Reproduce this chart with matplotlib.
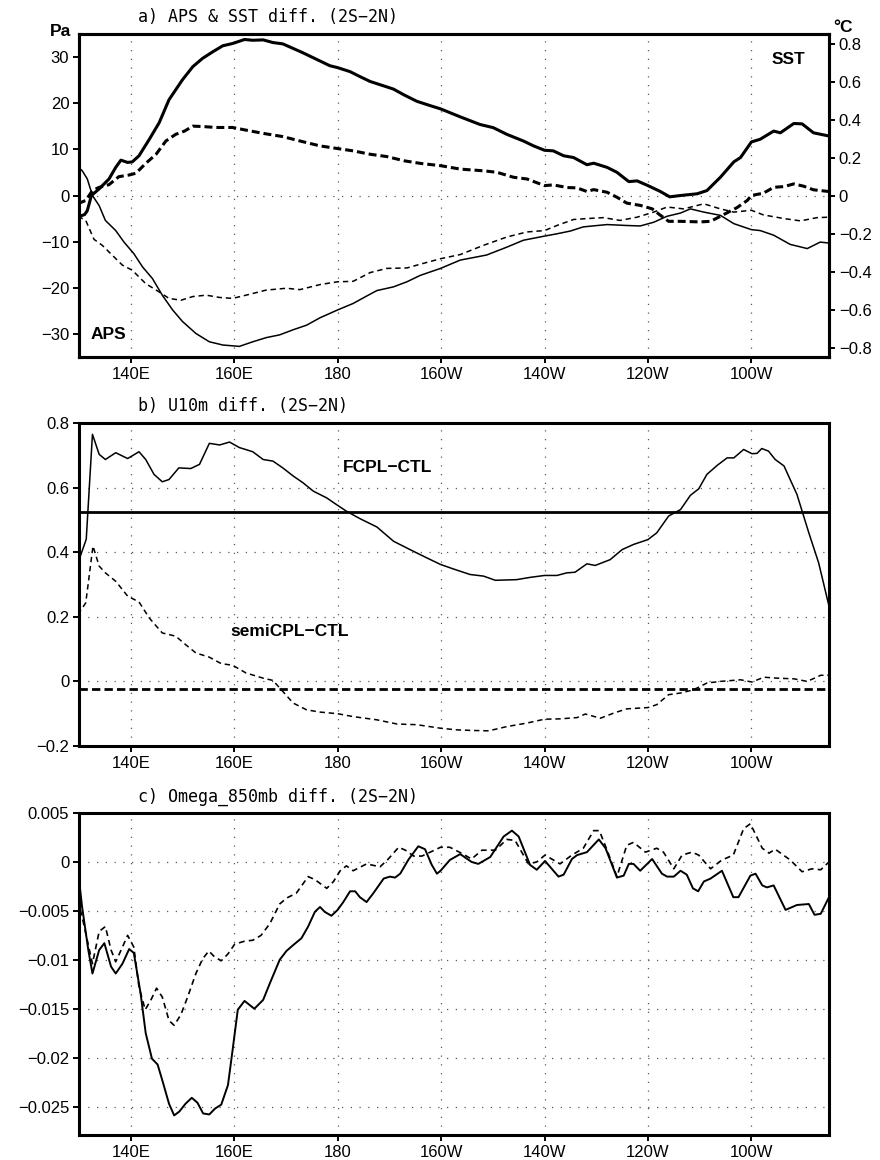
import matplotlib
matplotlib.use("Agg")
import matplotlib.pyplot as plt

# ---- panel a: APS (Pa, thin) and SST (degC, thick), 2S-2N ----
sst_fcpl_lon = [129.8, 131.1, 131.6, 132.4, 133.9, 135.8, 137.1, 138.1, 139.4, 140.3, 141.6, 143.6,
                145.5, 147.4, 150.0, 152.0, 153.9, 155.9, 157.8, 159.7, 162.0, 163.6, 165.6, 167.5,
                169.4, 171.4, 173.3, 175.9, 178.5, 180.0, 182.4, 184.3, 186.3, 188.9, 190.8, 192.8,
                195.3, 197.9, 199.9, 203.7, 207.5, 210.1, 212.7, 215.9, 217.9, 220.0, 221.7, 223.7,
                225.6, 228.2, 229.5, 232.1, 234.0, 236.3, 237.9, 240.0, 242.4, 244.2, 246.3, 249.5,
                251.4, 254.0, 256.6, 257.9, 260.0, 261.7, 264.3, 265.6, 268.2, 269.8, 272.0, 275.0]
sst_fcpl = [-0.113, -0.10, -0.08, 0.0, 0.035, 0.087, 0.148, 0.186, 0.174, 0.177, 0.209, 0.296,
            0.383, 0.504, 0.609, 0.678, 0.722, 0.757, 0.788, 0.80, 0.821, 0.817, 0.819, 0.805,
            0.798, 0.774, 0.751, 0.717, 0.683, 0.673, 0.652, 0.626, 0.60, 0.577, 0.56, 0.53,
            0.496, 0.473, 0.456, 0.414, 0.374, 0.357, 0.322, 0.287, 0.261, 0.238, 0.235, 0.209,
            0.20, 0.162, 0.17, 0.148, 0.122, 0.073, 0.077, 0.052, 0.021, -0.007, 0.0, 0.009,
            0.026, 0.096, 0.177, 0.20, 0.282, 0.296, 0.339, 0.33, 0.379, 0.377, 0.33, 0.313]

sst_semi_lon = [129.8, 131.3, 132.6, 133.9, 135.8, 137.7, 139.7, 141.0, 142.9, 144.9, 146.8, 148.7,
                150.4, 152.0, 153.9, 156.5, 159.7, 162.3, 165.6, 169.4, 172.7, 176.6, 180.0, 183.0,
                186.3, 189.5, 192.8, 196.0, 199.9, 203.7, 208.2, 210.8, 214.0, 216.6, 220.0, 221.7,
                224.3, 226.3, 228.2, 229.5, 232.1, 234.0, 235.9, 238.5, 240.8, 242.4, 244.0, 246.3,
                250.1, 252.1, 254.6, 257.2, 259.2, 260.0, 262.3, 264.3, 266.3, 268.2, 270.1, 272.0, 275.0]
sst_semi = [-0.043, -0.026, 0.026, 0.043, 0.057, 0.099, 0.108, 0.117, 0.169, 0.217, 0.287, 0.322,
            0.339, 0.365, 0.363, 0.358, 0.358, 0.344, 0.327, 0.31, 0.287, 0.261, 0.247, 0.235,
            0.217, 0.205, 0.183, 0.169, 0.157, 0.139, 0.13, 0.122, 0.096, 0.087, 0.052, 0.056,
            0.042, 0.04, 0.021, 0.031, 0.017, -0.009, -0.04, -0.052, -0.07, -0.104, -0.136, -0.136,
            -0.139, -0.136, -0.101, -0.064, -0.026, 0.0, 0.012, 0.043, 0.047, 0.061, 0.049, 0.03, 0.021]

aps_fcpl_lon = [129.8, 130.6, 131.6, 132.6, 133.9, 135.1, 137.1, 138.7, 140.6, 142.3, 144.2, 146.1,
                148.1, 150.0, 152.6, 155.2, 157.8, 161.0, 163.6, 166.2, 168.8, 171.4, 174.0, 176.6,
                180.0, 183.0, 185.6, 187.6, 190.8, 193.4, 196.0, 199.9, 203.7, 208.8, 212.7, 215.9,
                220.0, 222.4, 225.0, 227.5, 232.1, 235.9, 238.5, 241.1, 243.7, 246.3, 248.2, 250.8,
                254.0, 256.6, 260.0, 261.7, 264.3, 267.5, 270.8, 273.3, 275.0]
aps_fcpl = [6.1, 5.4, 3.6, 0.0, -2.2, -5.4, -7.6, -10.1, -12.6, -15.5, -18.0, -21.6,
            -24.8, -27.3, -29.9, -31.7, -32.4, -32.7, -31.7, -30.8, -30.2, -29.1, -28.1, -26.5,
            -24.8, -23.4, -21.8, -20.6, -19.8, -18.7, -17.3, -15.8, -14.0, -12.9, -11.2, -9.7,
            -8.8, -8.3, -7.7, -6.8, -6.3, -6.5, -6.6, -5.8, -4.5, -3.8, -2.9, -3.6,
            -4.3, -6.1, -7.4, -7.6, -8.6, -10.6, -11.5, -10.1, -10.3]

aps_semi_lon = [129.8, 131.3, 132.9, 134.5, 136.4, 138.4, 140.3, 142.9, 145.5, 147.4, 149.7, 152.0,
                154.6, 157.2, 159.7, 162.3, 166.2, 170.1, 172.7, 176.6, 180.0, 183.0, 186.3, 189.5,
                193.4, 196.6, 199.9, 203.7, 208.2, 212.7, 216.6, 220.0, 222.4, 225.6, 228.2, 231.4,
                234.6, 237.9, 241.1, 243.7, 246.9, 250.8, 254.0, 256.6, 260.0, 262.3, 266.3, 269.5,
                272.7, 275.0]
aps_semi = [-4.5, -5.4, -9.5, -10.8, -12.9, -15.1, -16.2, -19.1, -20.9, -22.3, -22.7, -21.9,
            -21.6, -22.1, -22.3, -21.6, -20.5, -20.1, -20.4, -19.3, -18.7, -18.6, -16.7, -15.8,
            -15.7, -14.7, -13.7, -12.8, -10.8, -9.0, -7.9, -7.6, -6.5, -5.2, -5.0, -4.8,
            -5.4, -4.7, -3.6, -2.5, -2.9, -1.8, -2.9, -3.6, -3.2, -4.2, -5.0, -5.5,
            -4.8, -4.7]

# ---- panel b: U10m ----
u10_fcpl_lon = [129.8, 131.4, 132.6, 133.9, 135.1, 137.1, 139.4, 141.6, 142.9, 144.5, 146.1, 147.4,
                149.3, 151.6, 153.3, 155.2, 157.2, 159.1, 161.0, 163.6, 165.6, 167.5, 169.4, 171.4,
                173.3, 175.3, 177.9, 180.0, 181.7, 184.3, 187.6, 190.8, 194.0, 197.3, 199.9, 202.4,
                205.6, 208.2, 210.5, 214.6, 217.2, 220.0, 222.4, 224.3, 225.9, 228.2, 229.8, 232.7,
                235.0, 237.2, 240.0, 241.7, 244.0, 246.3, 248.2, 249.8, 251.4, 253.4, 255.3, 256.6,
                258.5, 260.1, 261.1, 262.0, 263.3, 264.6, 266.3, 268.8, 271.1, 273.0, 275.0]
u10_fcpl = [0.367, 0.44, 0.765, 0.703, 0.687, 0.708, 0.69, 0.711, 0.687, 0.641, 0.618, 0.625,
            0.661, 0.659, 0.672, 0.737, 0.732, 0.741, 0.724, 0.711, 0.687, 0.682, 0.661, 0.636,
            0.615, 0.589, 0.568, 0.545, 0.527, 0.504, 0.478, 0.434, 0.408, 0.382, 0.362, 0.348,
            0.331, 0.326, 0.313, 0.315, 0.322, 0.328, 0.328, 0.336, 0.338, 0.364, 0.359, 0.377,
            0.408, 0.424, 0.439, 0.46, 0.512, 0.532, 0.576, 0.596, 0.641, 0.669, 0.692, 0.692,
            0.718, 0.705, 0.706, 0.721, 0.713, 0.687, 0.667, 0.579, 0.46, 0.367, 0.233]
u10_fcpl_mean = 0.525

u10_semi_lon = [129.8, 131.3, 131.8, 132.7, 133.9, 135.1, 137.1, 139.4, 141.6, 143.6, 146.1, 148.7,
                150.6, 152.6, 155.2, 157.5, 159.7, 162.3, 165.6, 167.5, 169.4, 171.4, 174.0, 176.6,
                180.0, 183.0, 187.6, 191.5, 195.3, 199.9, 203.0, 206.3, 209.2, 212.7, 216.6, 220.0,
                223.0, 226.3, 227.9, 230.8, 233.4, 235.9, 240.0, 241.7, 244.0, 246.3, 248.8, 251.4,
                254.0, 257.9, 260.1, 262.4, 265.0, 268.2, 270.8, 273.4, 275.0]
u10_semi = [0.207, 0.243, 0.305, 0.419, 0.357, 0.336, 0.31, 0.264, 0.246, 0.196, 0.15, 0.14,
            0.114, 0.088, 0.075, 0.055, 0.05, 0.026, 0.01, 0.003, -0.031, -0.067, -0.088, -0.095,
            -0.10, -0.109, -0.119, -0.132, -0.134, -0.145, -0.15, -0.152, -0.153, -0.14, -0.129, -0.117,
            -0.116, -0.112, -0.101, -0.114, -0.098, -0.085, -0.081, -0.072, -0.041, -0.036, -0.026, -0.005,
            0.0, 0.005, -0.002, 0.013, 0.01, 0.008, 0.0, 0.019, 0.019]
u10_semi_mean = -0.023

# ---- panel c: omega 850mb ----
om_fcpl_lon = [129.8, 130.6, 131.8, 132.6, 133.9, 134.9, 136.2, 137.1, 138.4, 139.7, 140.6, 141.9,
               142.9, 144.1, 145.2, 146.1, 147.4, 148.4, 149.4, 150.6, 151.8, 152.9, 154.0, 155.2,
               156.3, 157.5, 158.8, 159.7, 160.7, 162.0, 163.9, 165.6, 166.9, 168.8, 170.1, 171.4,
               173.0, 174.3, 175.6, 176.6, 177.5, 178.8, 180.0, 181.1, 182.4, 183.4, 184.3, 185.6,
               186.9, 188.9, 190.1, 191.1, 192.1, 193.7, 195.6, 196.9, 198.2, 199.2, 199.9, 201.7,
               203.7, 205.9, 207.2, 209.5, 212.1, 213.7, 215.0, 217.2, 218.5, 220.1, 222.7, 223.7,
               225.3, 226.3, 228.2, 230.5, 231.8, 234.0, 235.3, 236.3, 237.2, 238.5, 240.8, 242.7,
               243.7, 245.0, 246.3, 247.5, 248.7, 249.7, 250.8, 252.1, 254.3, 256.5, 257.5, 259.8,
               260.8, 262.1, 263.0, 264.3, 266.6, 268.8, 271.1, 272.2, 273.4, 275.0]
om_fcpl = [-0.00085, -0.0046, -0.009, -0.0114, -0.009, -0.0083, -0.0107, -0.0114, -0.0104, -0.0089, -0.0093, -0.0134,
           -0.0175, -0.0201, -0.0207, -0.0223, -0.0247, -0.0259, -0.0255, -0.0247, -0.0241, -0.0246, -0.0257, -0.0258,
           -0.0252, -0.0248, -0.0228, -0.0192, -0.0151, -0.0142, -0.015, -0.0141, -0.0124, -0.010, -0.0091, -0.0085,
           -0.0078, -0.0066, -0.0051, -0.0046, -0.0051, -0.0055, -0.0049, -0.0041, -0.003, -0.003, -0.0036, -0.0041,
           -0.0032, -0.0017, -0.0015, -0.0016, -0.0012, 0.00024, 0.0016, 0.0013, -0.0003, -0.0012, -0.0009, 0.0002,
           0.0008, 0.0, -0.0002, 0.0005, 0.0026, 0.0032, 0.0026, -0.0003, -0.0008, 0.0001, -0.0015, -0.0013,
           0.0003, 0.0007, 0.001, 0.0023, 0.0014, -0.0016, -0.0014, -0.0002, -0.0002, -0.0009, 0.0003, -0.0012,
           -0.0015, -0.0015, -0.0009, -0.0013, -0.0027, -0.003, -0.002, -0.0017, -0.0009, -0.0036, -0.0036, -0.0014,
           -0.0012, -0.0024, -0.0026, -0.0024, -0.0049, -0.0044, -0.0043, -0.0054, -0.0053, -0.0036]

om_semi_lon = [129.8, 130.6, 132.6, 133.9, 135.1, 136.2, 137.1, 138.4, 139.4, 140.6, 141.6, 142.8,
               143.9, 145.0, 146.1, 147.4, 148.4, 149.7, 151.0, 152.6, 153.9, 155.1, 156.2, 157.5,
               158.8, 160.1, 162.0, 163.6, 165.2, 166.9, 168.8, 170.1, 172.0, 174.3, 175.6, 177.9,
               179.2, 180.5, 181.7, 183.0, 185.6, 188.2, 189.8, 191.8, 193.1, 194.7, 196.3, 197.9,
               199.9, 201.7, 203.9, 205.9, 207.9, 210.5, 212.7, 214.3, 216.9, 218.5, 220.1, 223.0,
               225.3, 227.5, 229.5, 230.6, 232.1, 234.0, 235.9, 237.2, 239.5, 241.7, 243.0, 245.0,
               246.6, 248.5, 249.8, 252.1, 254.3, 256.5, 258.5, 259.8, 262.1, 263.4, 264.6, 267.5,
               269.8, 271.7, 273.4, 275.0]
om_semi = [-0.0039, -0.0056, -0.0104, -0.0071, -0.0066, -0.009, -0.0102, -0.0087, -0.0075, -0.0087, -0.0128, -0.0151,
           -0.0141, -0.0129, -0.0138, -0.0162, -0.0167, -0.0156, -0.0138, -0.0114, -0.0099, -0.0091, -0.0097, -0.0101,
           -0.0094, -0.0084, -0.0081, -0.008, -0.0075, -0.0063, -0.0043, -0.0037, -0.0032, -0.0015, -0.0018, -0.0027,
           -0.002, -0.0009, -0.0004, -0.0009, -0.0002, -0.0005, 0.0003, 0.0015, 0.0012, 0.0006, 0.0006, 0.001,
           0.0015, 0.0015, 0.0009, 0.0003, 0.0012, 0.0012, 0.0023, 0.0022, -0.0002, 0.0, 0.0007, -0.0002,
           0.0007, 0.0014, 0.0032, 0.0032, 0.0012, -0.0015, 0.0017, 0.002, 0.001, 0.0014, 0.001, -0.0007,
           0.0007, 0.001, 0.0007, -0.0007, 0.0002, 0.0007, 0.0034, 0.0039, 0.0014, 0.0009, 0.0013, 0.0002,
           -0.001, -0.0007, -0.0008, 0.0]

lon_ticks = [140, 160, 180, 200, 220, 240, 260]
lon_labels = ["140E", "160E", "180", "160W", "140W", "120W", "100W"]
aps_ticks = [-30, -20, -10, 0, 10, 20, 30]
sst_ticks = [-0.8, -0.6, -0.4, -0.2, 0, 0.2, 0.4, 0.6, 0.8]
sst_labels = ["\u22120.8", "\u22120.6", "\u22120.4", "\u22120.2", "0", "0.2", "0.4", "0.6", "0.8"]
u10_ticks = [-0.2, 0, 0.2, 0.4, 0.6, 0.8]
u10_labels = ["\u22120.2", "0", "0.2", "0.4", "0.6", "0.8"]
om_ticks = [-0.025, -0.02, -0.015, -0.01, -0.005, 0, 0.005]
om_labels = ["\u22120.025", "\u22120.02", "\u22120.015", "\u22120.01", "\u22120.005", "0", "0.005"]

plt.rcParams["font.family"] = ["Liberation Sans", "DejaVu Sans"]
plt.rcParams["axes.unicode_minus"] = True

W, H = 880.0, 1160.0
GRID = dict(color="0.35", lw=0.9, ls=(0, (1, 6)), zorder=0)
THIN_DASH = (0, (3.5, 2.5))
THICK_DASH = (0, (2.6, 1.3))
TITLE_FONT = dict(family="DejaVu Sans Mono", fontsize=12, va="center", ha="left")
LABEL_FONT = dict(fontsize=12.5, fontweight="bold", va="center")


def box(top, bottom):
    return [79 / W, 1 - bottom / H, 750 / W, (bottom - top) / H]


def style_ticks(ax):
    for s in ax.spines.values():
        s.set_linewidth(2.2)
    ax.tick_params(direction="out", length=4, width=1.4, labelsize=12, pad=3)


def frame(ax):
    ax.set_xlim(130, 275)
    ax.set_xticks(lon_ticks)
    ax.set_xticklabels(lon_labels)
    style_ticks(ax)
    for x in lon_ticks:
        ax.axvline(x, **GRID)


fig = plt.figure(figsize=(W / 100, H / 100), dpi=100)

# a) APS & SST
ax = fig.add_axes(box(34, 357))
frame(ax)
ax.set_ylim(-35, 35)
ax.set_yticks(aps_ticks)
ax.axhline(0, **GRID)
ax.plot(aps_fcpl_lon, aps_fcpl, color="k", lw=1.1)
ax.plot(aps_semi_lon, aps_semi, color="k", lw=1.1, ls=THIN_DASH)
ax2 = ax.twinx()
ax2.set_ylim(-0.85, 0.85)
ax2.set_yticks(sst_ticks)
ax2.set_yticklabels(sst_labels)
style_ticks(ax2)
ax2.plot(sst_fcpl_lon, sst_fcpl, color="k", lw=2.2)
ax2.plot(sst_semi_lon, sst_semi, color="k", lw=2.2, ls=THICK_DASH)
fig.text(138 / W, 1 - 17 / H, "a) APS & SST diff. (2S\u22122N)", **TITLE_FONT)
fig.text(50 / W, 1 - 31 / H, "Pa", **LABEL_FONT)
fig.text(833 / W, 1 - 27 / H, "\u00b0C", **LABEL_FONT)
fig.text(772 / W, 1 - 60 / H, "SST", **LABEL_FONT)
fig.text(91 / W, 1 - 335 / H, "APS", **LABEL_FONT)

# b) U10m
ax = fig.add_axes(box(423, 746))
frame(ax)
ax.set_ylim(-0.2, 0.8)
ax.set_yticks(u10_ticks)
ax.set_yticklabels(u10_labels)
for y in u10_ticks[1:-1]:
    ax.axhline(y, **GRID)
ax.plot(u10_fcpl_lon, u10_fcpl, color="k", lw=1.1)
ax.plot(u10_semi_lon, u10_semi, color="k", lw=1.1, ls=THIN_DASH)
ax.axhline(u10_fcpl_mean, color="k", lw=2.0)
ax.axhline(u10_semi_mean, color="k", lw=2.0, ls=(0, (3, 1.5)))
fig.text(138 / W, 1 - 406 / H, "b) U10m diff. (2S\u22122N)", **TITLE_FONT)
fig.text(343 / W, 1 - 467 / H, "FCPL\u2212CTL", **LABEL_FONT)
fig.text(230 / W, 1 - 632 / H, "semiCPL\u2212CTL", **LABEL_FONT)

# c) Omega 850mb
ax = fig.add_axes(box(813, 1135))
frame(ax)
ax.set_ylim(-0.0279, 0.005)
ax.set_yticks(om_ticks)
ax.set_yticklabels(om_labels)
for y in om_ticks[:-1]:
    ax.axhline(y, **GRID)
ax.plot(om_fcpl_lon, om_fcpl, color="k", lw=1.4)
ax.plot(om_semi_lon, om_semi, color="k", lw=1.2, ls=THIN_DASH)
fig.text(138 / W, 1 - 797 / H, "c) Omega_850mb diff. (2S\u22122N)", **TITLE_FONT)

fig.savefig("out.png", dpi=100)
